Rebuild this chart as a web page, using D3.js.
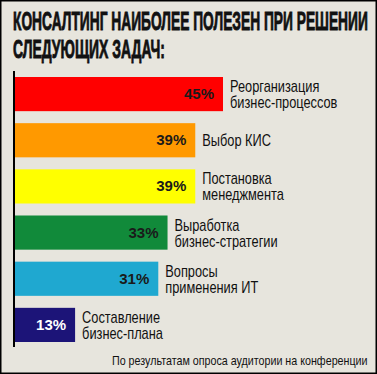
<!DOCTYPE html>
<html><head><meta charset="utf-8">
<script src="https://cdn.jsdelivr.net/npm/d3@7"></script>
<style>html,body{margin:0;padding:0;background:#fff}svg{display:block}</style>
</head><body>
<script>
const titleLines = ["КОНСАЛТИНГ НАИБОЛЕЕ ПОЛЕЗЕН ПРИ РЕШЕНИИ", "СЛЕДУЮЩИХ ЗАДАЧ:"];
const categories = [
  ["Реорганизация", "бизнес-процессов"],
  ["Выбор КИС"],
  ["Постановка", "менеджмента"],
  ["Выработка", "бизнес-стратегии"],
  ["Вопросы", "применения ИТ"],
  ["Составление", "бизнес-плана"]
];
const values = [45, 39, 39, 33, 31, 13];
const valueLabels = ["45%", "39%", "39%", "33%", "31%", "13%"];
const barColors = ["#ff0000", "#ff9900", "#ffff00", "#118a3a", "#1fa8d0", "#1c1478"];
const labelColors = ["#1a1a1a", "#1a1a1a", "#1a1a1a", "#1a1a1a", "#1a1a1a", "#ffffff"];
const footnote = "По результатам опроса аудитории на конференции";

const W = 377, H = 374;
const svg = d3.select("body").append("svg").attr("width", W).attr("height", H);

svg.append("rect").attr("x", 0.75).attr("y", 0.75).attr("width", W - 1.5).attr("height", H - 1.5)
  .attr("fill", "#e7e5dd").attr("stroke", "#000").attr("stroke-width", 1.5);

const sans = "'Liberation Sans', Arial, sans-serif";
const SX = 0.8; // narrow look

// fit a text horizontally into a given width by scaling it
function fitText(sel, x0, y0, width) {
  sel.attr("x", 0).attr("y", 0);
  const len = sel.node().getComputedTextLength();
  sel.attr("transform", `translate(${x0},${y0}) scale(${width / len},1)`);
}

const titleWidths = [355, 152];
svg.selectAll("text.title").data(titleLines).join("text")
  .attr("class", "title")
  .attr("font-family", sans).attr("font-weight", "bold").attr("font-size", 26)
  .attr("fill", "#111").attr("stroke", "#111").attr("stroke-width", 0.9)
  .text(d => d)
  .each(function (d, i) { fitText(d3.select(this), 13, 29.5 + i * 28, titleWidths[i]); });

const x = d3.scaleLinear().domain([0, 45]).range([15, 223]);
const y = d3.scaleBand().domain(d3.range(values.length)).range([77, 342]).paddingInner(0.26).paddingOuter(0);

svg.append("line").attr("x1", 14).attr("x2", 14).attr("y1", 71).attr("y2", 347)
  .attr("stroke", "#000").attr("stroke-width", 2);

const g = svg.selectAll("g.bar").data(values).join("g").attr("class", "bar");
g.append("rect")
  .attr("x", x(0)).attr("y", (d, i) => y(i))
  .attr("width", d => x(d) - x(0)).attr("height", y.bandwidth())
  .attr("fill", (d, i) => barColors[i]);
g.append("text")
  .attr("x", d => x(d) - 9).attr("y", (d, i) => y(i) + y.bandwidth() / 2 + 5)
  .attr("text-anchor", "end")
  .attr("font-family", sans).attr("font-weight", "bold").attr("font-size", 15)
  .attr("fill", (d, i) => labelColors[i])
  .text((d, i) => valueLabels[i]);
g.each(function (d, i) {
  const lines = categories[i];
  const cy = y(i) + y.bandwidth() / 2;
  const t = d3.select(this).append("text")
    .attr("transform", `translate(${x(d) + 7},${cy}) scale(${SX},1)`)
    .attr("font-family", sans).attr("font-size", 16).attr("fill", "#111");
  lines.forEach((ln, k) => {
    t.append("tspan").attr("x", 0)
      .attr("y", 6 + (k - (lines.length - 1) / 2) * 16)
      .text(ln);
  });
});

const foot = svg.append("text")
  .attr("font-family", sans).attr("font-size", 12).attr("fill", "#111")
  .text(footnote);
fitText(foot, 112, 365, 256);
</script>
</body></html>
